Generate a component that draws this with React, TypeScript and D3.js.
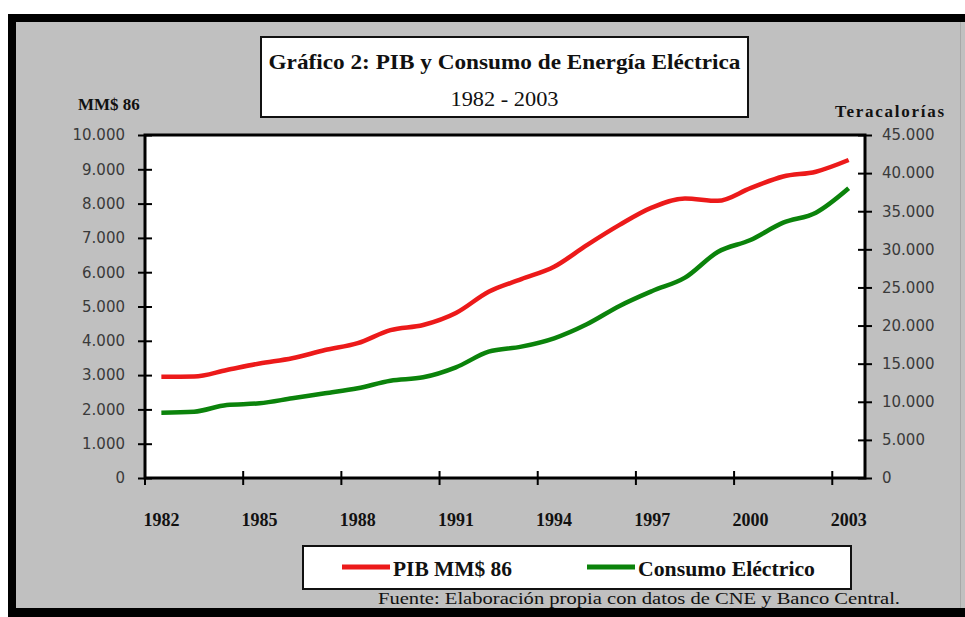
import { useEffect, useRef } from 'react'
import * as d3 from 'd3'

// Categories (years) and the two series
const years = [
  '1982', '1983', '1984', '1985', '1986', '1987', '1988', '1989', '1990', '1991', '1992',
  '1993', '1994', '1995', '1996', '1997', '1998', '1999', '2000', '2001', '2002', '2003',
]
// PIB, MM$ of 1986 (left axis)
const pibValues = [
  2950, 2960, 3150, 3340, 3490, 3730, 3930, 4310, 4460, 4810, 5430,
  5800, 6160, 6790, 7380, 7890, 8150, 8080, 8450, 8790, 8930, 9270,
]
// Electricity consumption, teracalorías (right axis)
const consumoValues = [
  8570, 8700, 9580, 9800, 10460, 11110, 11770, 12770, 13210, 14520, 16570,
  17230, 18330, 20170, 22570, 24530, 26280, 29650, 31230, 33500, 34810, 38010,
]
const leftTicks = [0, 1000, 2000, 3000, 4000, 5000, 6000, 7000, 8000, 9000, 10000]
const rightTicks = [0, 5000, 10000, 15000, 20000, 25000, 30000, 35000, 40000, 45000]
const seriesNames = ['PIB MM$ 86', 'Consumo Eléctrico']
const seriesColors = ['#ec1a1a', '#0b830b']

const W = 965
const H = 617
const margin = { top: 135, right: 100, bottom: 139, left: 145 }
const serif = "'Liberation Serif', 'Times New Roman', serif"
const sans = "'DejaVu Sans', Verdana, sans-serif"

const App = () => {
  const svgRef = useRef<SVGSVGElement>(null)

  useEffect(() => {
    const width = W - margin.left - margin.right
    const height = H - margin.top - margin.bottom
    const locale = d3.formatLocale({ decimal: ',', thousands: '.', grouping: [3], currency: ['$', ''] })
    const fmt = locale.format(',d')

    const xScale = d3.scaleBand().domain(years).range([0, width])
    const yLeft = d3.scaleLinear().domain([0, 10000]).range([height, 0])
    const yRight = d3.scaleLinear().domain([0, 45000]).range([height, 0])
    const cx = (d: string) => (xScale(d) ?? 0) + xScale.bandwidth() / 2

    const svgEl = d3.select(svgRef.current)
    svgEl.selectAll('*').remove()

    // Frame: black border and gray panel
    svgEl.append('rect').attr('x', 8).attr('y', 14).attr('width', W - 8).attr('height', H - 14).attr('fill', '#000')
    svgEl.append('rect').attr('x', 16).attr('y', 22).attr('width', W - 16).attr('height', 586).attr('fill', '#c0c0c0')
    svgEl.append('line').attr('x1', 960.5).attr('x2', 960.5).attr('y1', 22).attr('y2', 608)
      .attr('stroke', '#a8a8a8').attr('stroke-width', 1)

    // Title box
    svgEl.append('rect').attr('x', 261).attr('y', 37).attr('width', 487).attr('height', 80)
      .attr('fill', '#fff').attr('stroke', '#111').attr('stroke-width', 2)
    svgEl.append('text').attr('x', 504.5).attr('y', 69).attr('text-anchor', 'middle')
      .style('font-family', serif).style('font-weight', 'bold').style('font-size', '22px').attr('fill', '#111')
      .attr('textLength', 472).attr('lengthAdjust', 'spacingAndGlyphs')
      .text('Gráfico 2: PIB y Consumo de Energía Eléctrica')
    svgEl.append('text').attr('x', 504.5).attr('y', 106).attr('text-anchor', 'middle')
      .style('font-family', serif).style('font-size', '21px').attr('fill', '#111')
      .attr('textLength', 108).attr('lengthAdjust', 'spacingAndGlyphs')
      .text('1982 - 2003')

    // Axis titles
    svgEl.append('text').attr('x', 78).attr('y', 110)
      .style('font-family', serif).style('font-weight', 'bold').style('font-size', '17px').attr('fill', '#111')
      .text('MM$ 86')
    svgEl.append('text').attr('x', 835).attr('y', 117)
      .style('font-family', serif).style('font-weight', 'bold').style('font-size', '17px').attr('fill', '#111')
      .attr('textLength', 109).attr('lengthAdjust', 'spacing')
      .text('Teracalorías')

    const svg = svgEl.append('g').attr('transform', `translate(${margin.left},${margin.top})`)

    // Plot area
    svg.append('rect').attr('width', width).attr('height', height).attr('fill', '#fff')

    // Left axis
    const leftAxis = svg.append('g')
      .call(d3.axisLeft(yLeft).tickValues(leftTicks).tickFormat((d) => fmt(+d)).tickSizeInner(7).tickSizeOuter(0).tickPadding(12))
    leftAxis.select('.domain').remove()
    leftAxis.selectAll('.tick line').attr('x2', 7).attr('x1', -7).attr('stroke', '#000').attr('stroke-width', 2)
    leftAxis.selectAll('text').attr('x', -20).style('font-family', sans).style('font-size', '15px').attr('fill', '#3a3a3a')

    // Right axis
    const rightAxis = svg.append('g').attr('transform', `translate(${width},0)`)
      .call(d3.axisRight(yRight).tickValues(rightTicks).tickFormat((d) => fmt(+d)).tickSizeInner(7).tickSizeOuter(0))
    rightAxis.select('.domain').remove()
    rightAxis.selectAll('.tick line').attr('x1', -7).attr('x2', 7).attr('stroke', '#000').attr('stroke-width', 2)
    rightAxis.selectAll('text').attr('x', 17).style('font-family', sans).style('font-size', '15px').attr('fill', '#3a3a3a')

    // Bottom axis: ticks at every third category boundary, labels centered
    const labelYears = years.filter((_, i) => i % 3 === 0)
    svg.selectAll('.xtick').data(labelYears).enter().append('line')
      .attr('x1', (d) => xScale(d) ?? 0).attr('x2', (d) => xScale(d) ?? 0)
      .attr('y1', height - 7).attr('y2', height + 7)
      .attr('stroke', '#000').attr('stroke-width', 2)
    svg.selectAll('.xlabel').data(labelYears).enter().append('text')
      .attr('x', cx).attr('y', height + 48).attr('text-anchor', 'middle')
      .style('font-family', serif).style('font-weight', 'bold').style('font-size', '18px').attr('fill', '#111')
      .text((d) => d)

    // Lines
    const pibLine = d3.line<number>().x((_, i) => cx(years[i])).y((d) => yLeft(d)).curve(d3.curveMonotoneX)
    const consLine = d3.line<number>().x((_, i) => cx(years[i])).y((d) => yRight(d)).curve(d3.curveMonotoneX)
    svg.append('path').attr('d', consLine(consumoValues)).attr('fill', 'none')
      .attr('stroke', seriesColors[1]).attr('stroke-width', 4.5).attr('stroke-linejoin', 'round')
    svg.append('path').attr('d', pibLine(pibValues)).attr('fill', 'none')
      .attr('stroke', seriesColors[0]).attr('stroke-width', 4.5).attr('stroke-linejoin', 'round')

    // Plot border on top
    svg.append('rect').attr('width', width).attr('height', height).attr('fill', 'none')
      .attr('stroke', '#000').attr('stroke-width', 3)

    // Legend
    svgEl.append('rect').attr('x', 303).attr('y', 546).attr('width', 548).attr('height', 43)
      .attr('fill', '#fff').attr('stroke', '#111').attr('stroke-width', 2)
    const legendX = [342, 587]
    const legendW = [119, 177]
    seriesNames.forEach((name, i) => {
      svgEl.append('line').attr('x1', legendX[i]).attr('x2', legendX[i] + 48).attr('y1', 567).attr('y2', 567)
        .attr('stroke', seriesColors[i]).attr('stroke-width', 5)
      svgEl.append('text').attr('x', legendX[i] + 51).attr('y', 576)
        .style('font-family', serif).style('font-weight', 'bold').style('font-size', '21px').attr('fill', '#111')
        .attr('textLength', legendW[i]).attr('lengthAdjust', 'spacingAndGlyphs')
        .text(name)
    })

    // Source note
    svgEl.append('text').attr('x', 378).attr('y', 604)
      .style('font-family', serif).style('font-size', '16px').attr('fill', '#111')
      .attr('textLength', 522).attr('lengthAdjust', 'spacingAndGlyphs')
      .text('Fuente: Elaboración propia con datos de CNE y Banco Central.')
  }, [])

  return (
    <svg ref={svgRef} width={W} height={H}
      style={{ position: 'absolute', left: 0, top: 0, background: '#fff' }} />
  )
}

export default App
